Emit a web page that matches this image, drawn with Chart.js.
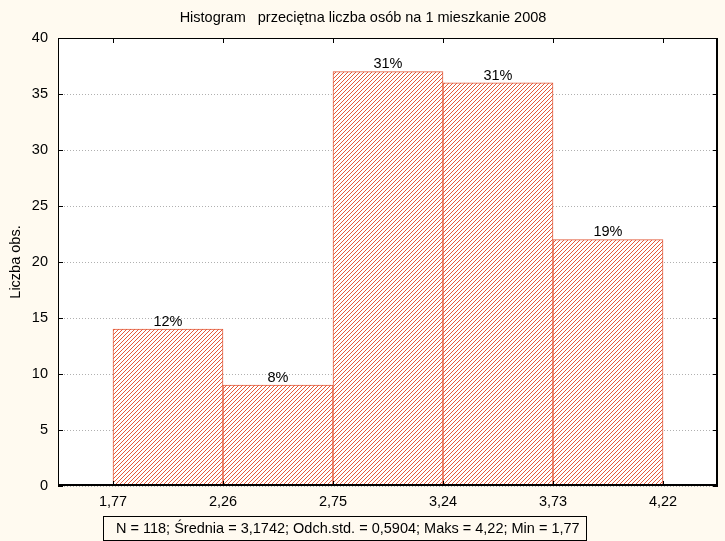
<!DOCTYPE html>
<html>
<head>
<meta charset="utf-8">
<script src="https://cdn.jsdelivr.net/npm/chart.js@4.4.0/dist/chart.umd.min.js"></script>
<style>
  html, body { margin:0; padding:0; background:#fffaf0; }
  #wrap { position:relative; width:725px; height:541px; }
  #stats { position:absolute; left:103px; top:516px; width:482px; height:23px; border:1px solid #000;
    font:14.5px "Liberation Sans", Arial, sans-serif; line-height:23px; box-sizing:content-box; white-space:pre; text-indent:12px; color:#000; overflow:hidden; }
</style>
</head>
<body>
<div id="wrap">
<canvas id="c" width="725" height="541"></canvas>
<div id="stats">N = 118; Średnia = 3,1742; Odch.std. = 0,5904; Maks = 4,22; Min = 1,77</div>
</div>
<script>
const binCenters = [2.015, 2.505, 2.995, 3.485, 3.975];
const counts = [14, 9, 37, 36, 22];
const percentLabels = ['12%', '8%', '31%', '31%', '19%'];
const xTickValues = [1.77, 2.26, 2.75, 3.24, 3.73, 4.22];
const xTickLabels = ['1,77', '2,26', '2,75', '3,24', '3,73', '4,22'];
const yTickValues = [0, 5, 10, 15, 20, 25, 30, 35, 40];
const titleText = 'Histogram   przeciętna liczba osób na 1 mieszkanie 2008';
const yTitle = 'Liczba obs.';

const RED = '#e35b3b';
const FONT = '"Liberation Sans", Arial, sans-serif';
const FS = 14.5;

function makePattern() {
  const p = document.createElement('canvas');
  p.width = 4; p.height = 4;
  const g = p.getContext('2d');
  g.fillStyle = '#ffffff';
  g.fillRect(0, 0, 4, 4);
  g.fillStyle = RED;
  for (let i = 0; i < 4; i++) g.fillRect(i, 3 - i, 1, 1);
  return document.getElementById('c').getContext('2d').createPattern(p, 'repeat');
}

const framePlugin = {
  id: 'frame',
  beforeDraw(chart) {
    const { ctx, chartArea: a } = chart;
    ctx.save();
    ctx.fillStyle = '#ffffff';
    ctx.fillRect(a.left, a.top, a.right - a.left, a.bottom - a.top);
    ctx.restore();
  },
  afterDatasetsDraw(chart) {
    const { ctx, chartArea: a, scales } = chart;
    ctx.save();
    ctx.fillStyle = '#000';
    ctx.font = FS + 'px ' + FONT;
    ctx.textAlign = 'center';
    ctx.textBaseline = 'bottom';
    const meta = chart.getDatasetMeta(0);
    meta.data.forEach((bar, i) => {
      ctx.fillText(percentLabels[i], bar.x, bar.y);
    });
    ctx.strokeStyle = '#000';
    ctx.lineWidth = 1;
    ctx.beginPath();
    ctx.rect(Math.round(a.left) + 0.5, Math.round(a.top) + 0.5, Math.round(a.right - a.left) - 1, Math.round(a.bottom - a.top) - 1);
    ctx.stroke();
    ctx.lineWidth = 2;
    ctx.beginPath();
    ctx.moveTo(a.right - 1, a.top);
    ctx.lineTo(a.right - 1, a.bottom);
    ctx.moveTo(a.left, a.bottom - 1);
    ctx.lineTo(a.right, a.bottom - 1);
    ctx.stroke();
    ctx.lineWidth = 1;
    ctx.beginPath();
    const tl = 5;
    xTickValues.forEach(v => {
      const x = Math.round(scales.x.getPixelForValue(v)) + 0.5;
      ctx.moveTo(x, a.bottom); ctx.lineTo(x, a.bottom - tl);
      ctx.moveTo(x, a.top); ctx.lineTo(x, a.top + tl);
    });
    yTickValues.forEach(v => {
      const y = Math.round(scales.y.getPixelForValue(v)) + 0.5;
      ctx.moveTo(a.left, y); ctx.lineTo(a.left + tl, y);
      ctx.moveTo(a.right, y); ctx.lineTo(a.right - tl, y);
    });
    ctx.stroke();
    ctx.font = FS + 'px ' + FONT;
    ctx.textBaseline = 'middle';
    ctx.textAlign = 'center';
    ctx.fillText(titleText, 363, 18);
    ctx.restore();
  }
};

new Chart(document.getElementById('c'), {
  type: 'bar',
  data: {
    datasets: [{
      data: binCenters.map((x, i) => ({ x, y: counts[i] })),
      backgroundColor: makePattern(),
      borderColor: RED,
      borderWidth: 1,
      barPercentage: 1,
      categoryPercentage: 1,
      borderSkipped: 'bottom'
    }]
  },
  options: {
    responsive: false,
    animation: false,
    events: [],
    layout: { padding: { left: 0, right: 7, top: 38, bottom: 0 } },
    plugins: { legend: { display: false }, tooltip: { enabled: false }, title: { display: false } },
    scales: {
      x: {
        type: 'linear',
        offset: false,
        min: 1.525,
        max: 4.465,
        afterBuildTicks(s) { s.ticks = xTickValues.map(v => ({ value: v })); },
        afterFit(s) { s.height = 55; },
        grid: { display: false, drawTicks: false },
        border: { display: false },
        ticks: {
          autoSkip: false, maxRotation: 0, padding: 7,
          color: '#000', font: { family: FONT, size: FS },
          callback(v, i) { return xTickLabels[i]; }
        }
      },
      y: {
        min: 0, max: 40,
        afterBuildTicks(s) { s.ticks = yTickValues.map(v => ({ value: v })); },
        afterFit(s) { s.width = 58; },
        grid: { color: '#b0b0b0', drawTicks: false },
        border: { display: false, dash: [1, 2] },
        ticks: {
          padding: 10, color: '#000', font: { family: FONT, size: FS },
          callback(v, i) { return String(yTickValues[i]); }
        },
        title: { display: true, text: yTitle, color: '#000', font: { family: FONT, size: FS }, padding: { top: 7, bottom: 0 } }
      }
    }
  },
  plugins: [framePlugin]
});
</script>
</body>
</html>
